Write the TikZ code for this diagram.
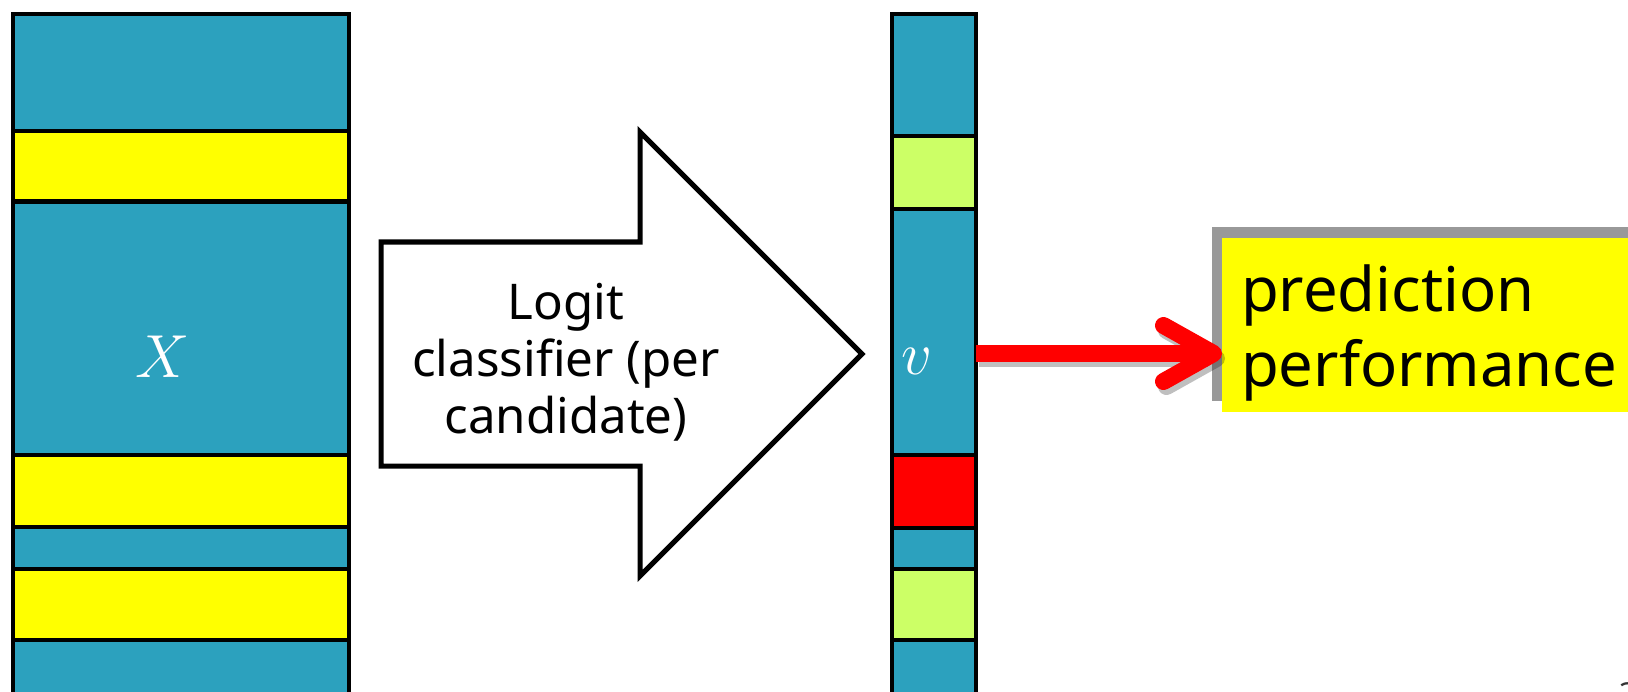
\documentclass[tikz,border=0pt]{standalone}
\usepackage{fontspec}
\setmainfont{Noto Sans}
\usetikzlibrary{arrows.meta,shadows,positioning}
\definecolor{barblue}{RGB}{44,161,190}
\definecolor{hlyellow}{RGB}{255,255,0}
\definecolor{hlgreen}{RGB}{204,255,102}
\definecolor{hlred}{RGB}{255,0,0}

\begin{document}
\begin{tikzpicture}[x=0.01cm,y=-0.01cm,line width=0.04cm,
        bar/.style={rectangle,draw=black,fill=barblue,anchor=north west,inner sep=0pt,outer sep=0pt,minimum height=7cm},
        band/.style={draw=black},
        varlbl/.style={text=white,font=\fontsize{19}{22}\selectfont},
        redarrow/.style={draw=red,line width=0.17cm,-{Straight Barb[length=0.5cm,width=0.56cm,line cap=round,line join=round]}},
        predbox/.style={rectangle,fill=hlyellow,anchor=north west,inner sep=0pt,outer sep=0pt,minimum width=4.2cm,minimum height=1.74cm,
            drop shadow={shadow xshift=-0.1cm,shadow yshift=0.11cm,fill=black,opacity=0.4}}]
    \useasboundingbox (0,0) rectangle (1628,691);

    % input matrix and output vector
    \node[bar,minimum width=3.36cm] (xbar) at (13,14) {};
    \node[bar,minimum width=0.84cm] (vbar) at (892,14) {};
    \foreach \top/\bot in {131/201.5,455/527,568.5/640}
        \draw[band,fill=hlyellow] (13,\top) rectangle (349,\bot);
    \foreach \top/\bot/\col in {136.5/209/hlgreen,455/527.5/hlred,568.5/640/hlgreen}
        \draw[band,fill=\col] (892,\top) rectangle (976,\bot);
    \node[varlbl] (xlbl) at (163,357) {$X$};
    \node[varlbl] (vlbl) at (917,361) {$v$};

    % classifier arrow
    \draw[line width=0.05cm,fill=white] (381,242) -- (640,242) -- (640,132) -- (862,354)
        -- (640,576) -- (640,466) -- (381,466) -- cycle;
    \node[font=\fontsize{14}{16.2}\selectfont,align=center] (clf) at (566,362) {Logit\\classifier (per\\candidate)};

    % result
    \node[predbox] (pred) at (1222,238) {};
    \node[anchor=north west,inner sep=0pt,align=left,font=\fontsize{17.5}{21.3}\selectfont] (predtxt) at (1239,263)
        {prediction\\performance};
    \coordinate (ay) at (0,353.5);
    \draw[redarrow,draw=black,opacity=0.25,transform canvas={shift={(3,5)}}] (vbar.east |- ay) -- (pred.west |- ay);
    \draw[redarrow] (vbar.east |- ay) -- (pred.west |- ay);

    \node[anchor=north west,inner sep=0pt,font=\fontsize{9}{10}\selectfont,text=black!80] (pagenum) at (1617,681) {3};
\end{tikzpicture}
\end{document}
